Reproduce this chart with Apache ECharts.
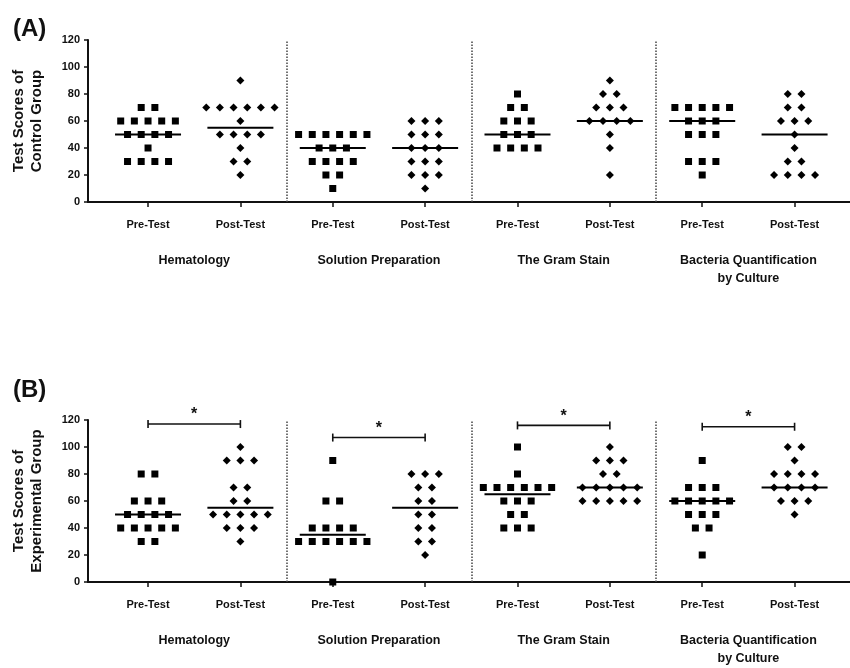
<!DOCTYPE html>
<html>
<head>
<meta charset="utf-8">
<script src="https://cdn.jsdelivr.net/npm/echarts@6/dist/echarts.min.js"></script>
<style>
  html, body { margin: 0; padding: 0; background: #fff; }
  #chart { width: 850px; height: 668px; }
</style>
</head>
<body>
<div id="chart"></div>
<script>
// labels
const testLabels = ['Pre-Test', 'Post-Test'];
const topics = ['Hematology', 'Solution Preparation', 'The Gram Stain', 'Bacteria Quantification\nby Culture'];
const yTicks = [0, 20, 40, 60, 80, 100, 120];

// (A) control group scores, one list per topic
const controlPre = [
  [70, 70, 60, 60, 60, 60, 60, 50, 50, 50, 50, 40, 30, 30, 30, 30],
  [50, 50, 50, 50, 50, 50, 40, 40, 40, 30, 30, 30, 30, 20, 20, 10],
  [80, 70, 70, 60, 60, 60, 50, 50, 50, 40, 40, 40, 40],
  [70, 70, 70, 70, 70, 60, 60, 60, 50, 50, 50, 30, 30, 30, 20]
];
const controlPost = [
  [90, 70, 70, 70, 70, 70, 70, 60, 50, 50, 50, 50, 40, 30, 30, 20],
  [60, 60, 60, 50, 50, 50, 40, 40, 40, 30, 30, 30, 20, 20, 20, 10],
  [90, 80, 80, 70, 70, 70, 60, 60, 60, 60, 50, 40, 20],
  [80, 80, 70, 70, 60, 60, 60, 50, 40, 30, 30, 20, 20, 20, 20]
];
const controlPreMedian = [50, 40, 50, 60];
const controlPostMedian = [55, 40, 60, 50];

// (B) experimental group scores
const expPre = [
  [80, 80, 60, 60, 60, 50, 50, 50, 50, 40, 40, 40, 40, 40, 30, 30],
  [90, 60, 60, 40, 40, 40, 40, 30, 30, 30, 30, 30, 30, 0],
  [100, 80, 70, 70, 70, 70, 70, 70, 60, 60, 60, 50, 50, 40, 40, 40],
  [90, 70, 70, 70, 60, 60, 60, 60, 60, 50, 50, 50, 40, 40, 20]
];
const expPost = [
  [100, 90, 90, 90, 70, 70, 60, 60, 50, 50, 50, 50, 50, 40, 40, 40, 30],
  [80, 80, 80, 70, 70, 60, 60, 50, 50, 40, 40, 30, 30, 20],
  [100, 90, 90, 90, 80, 80, 70, 70, 70, 70, 70, 60, 60, 60, 60, 60],
  [100, 100, 90, 80, 80, 80, 80, 70, 70, 70, 70, 60, 60, 60, 50]
];
const expPreMedian = [50, 35, 65, 60];
const expPostMedian = [55, 55, 70, 70];
// significance brackets (height in score units), panel B only
const sigBarY = [117, 107, 116, 115];

const DOT_STEP = 0.148;
const FONT = '"Liberation Sans", Arial, sans-serif';

// spread equal scores side by side around the column centre
function swarm(cols, colOffset) {
  const out = [];
  cols.forEach((scores, i) => {
    const x0 = i * 2 + colOffset;
    const rows = {};
    scores.forEach(s => { rows[s] = (rows[s] || 0) + 1; });
    Object.keys(rows).forEach(k => {
      const n = rows[k];
      for (let j = 0; j < n; j++) out.push([x0 + (j - (n - 1) / 2) * DOT_STEP, +k]);
    });
  });
  return out;
}

function medianData(pre, post) {
  const out = [];
  pre.forEach((m, i) => { out.push([i * 2, m]); out.push([i * 2 + 1, post[i]]); });
  return out;
}

function medianItem(params, api) {
  const p = api.coord([api.value(0), api.value(1)]);
  return {
    type: 'line',
    shape: { x1: p[0] - 33, y1: p[1], x2: p[0] + 33, y2: p[1] },
    style: { stroke: '#000', lineWidth: 2 }
  };
}

function sigItem(params, api) {
  const i = api.value(0);
  const a = api.coord([i * 2, api.value(1)]);
  const b = api.coord([i * 2 + 1, api.value(1)]);
  const st = { stroke: '#111', lineWidth: 1.6 };
  return {
    type: 'group',
    children: [
      { type: 'line', shape: { x1: a[0], y1: a[1], x2: b[0], y2: b[1] }, style: st },
      { type: 'line', shape: { x1: a[0], y1: a[1] - 4, x2: a[0], y2: a[1] + 4 }, style: st },
      { type: 'line', shape: { x1: b[0], y1: b[1] - 4, x2: b[0], y2: b[1] + 4 }, style: st },
      { type: 'text', x: (a[0] + b[0]) / 2, y: a[1] - 9,
        style: { text: '*', fill: '#111', font: 'bold 16px ' + FONT, align: 'center', verticalAlign: 'middle' } }
    ]
  };
}

const grids = [
  { left: 88, right: 0, top: 40, height: 162 },
  { left: 88, right: 0, top: 420, height: 162 }
];

function xAxes(g) {
  return [
    {
      type: 'value', gridIndex: g, position: 'bottom', min: -0.65, max: 7.6,
      splitLine: { show: false },
      axisLine: { show: true, onZero: false, lineStyle: { color: '#111', width: 2 } },
      axisTick: { show: true, length: 5, customValues: [0, 1, 2, 3, 4, 5, 6, 7], lineStyle: { color: '#111', width: 1.5 } },
      axisLabel: {
        customValues: [0, 1, 2, 3, 4, 5, 6, 7], margin: 17,
        formatter: v => testLabels[Math.round(v) % 2],
        color: '#111', fontWeight: 'bold', fontSize: 11, fontFamily: FONT
      }
    },
    {
      type: 'value', gridIndex: g, position: 'bottom', min: -0.65, max: 7.6,
      splitLine: { show: false },
      axisLine: { show: false, onZero: false }, axisTick: { show: false },
      axisLabel: {
        customValues: [0.5, 2.5, 4.5, 6.5], margin: 50, lineHeight: 18,
        formatter: v => topics[Math.round((v - 0.5) / 2)],
        color: '#111', fontWeight: 'bold', fontSize: 12.5, fontFamily: FONT
      }
    }
  ];
}

function yAxis(g, name) {
  return {
    type: 'value', gridIndex: g, min: yTicks[0], max: yTicks[yTicks.length - 1], interval: 20,
    name: name, nameLocation: 'middle', nameGap: 42,
    nameTextStyle: { color: '#111', fontWeight: 'bold', fontSize: 15, lineHeight: 18, fontFamily: FONT },
    splitLine: { show: false },
    axisLine: { show: true, onZero: false, lineStyle: { color: '#111', width: 2 } },
    axisTick: { show: true, length: 4, lineStyle: { color: '#111', width: 1.5 } },
    axisLabel: { margin: 8, color: '#111', fontWeight: 'bold', fontSize: 11, fontFamily: FONT }
  };
}

function panelSeries(g, pre, post, preMed, postMed) {
  const xi = g * 2;
  return [
    {
      type: 'scatter', xAxisIndex: xi, yAxisIndex: g, symbol: 'rect', symbolSize: 7,
      itemStyle: { color: '#000', opacity: 1 }, data: swarm(pre, 0),
      markLine: {
        silent: true, symbol: 'none', label: { show: false },
        lineStyle: { color: '#444', type: 'dotted', width: 1.5 },
        data: [{ xAxis: 1.5 }, { xAxis: 3.5 }, { xAxis: 5.5 }]
      }
    },
    {
      type: 'scatter', xAxisIndex: xi, yAxisIndex: g, symbol: 'diamond', symbolSize: 8,
      itemStyle: { color: '#000', opacity: 1 }, data: swarm(post, 1)
    },
    {
      type: 'custom', xAxisIndex: xi, yAxisIndex: g, renderItem: medianItem,
      data: medianData(preMed, postMed), z: 3
    }
  ];
}

const chart = echarts.init(document.getElementById('chart'));
chart.setOption({
  animation: false,
  backgroundColor: '#fff',
  title: [
    { text: '(A)', left: 8, top: 12, textStyle: { fontSize: 24, fontWeight: 'bold', color: '#111', fontFamily: FONT } },
    { text: '(B)', left: 8, top: 373, textStyle: { fontSize: 24, fontWeight: 'bold', color: '#111', fontFamily: FONT } }
  ],
  grid: grids,
  xAxis: xAxes(0).concat(xAxes(1)),
  yAxis: [
    yAxis(0, 'Test Scores of\nControl Group'),
    yAxis(1, 'Test Scores of\nExperimental Group')
  ],
  series: panelSeries(0, controlPre, controlPost, controlPreMedian, controlPostMedian)
    .concat(panelSeries(1, expPre, expPost, expPreMedian, expPostMedian))
    .concat([{
      type: 'custom', xAxisIndex: 2, yAxisIndex: 1, renderItem: sigItem, clip: false,
      data: sigBarY.map((y, i) => [i, y])
    }])
});
</script>
</body>
</html>
